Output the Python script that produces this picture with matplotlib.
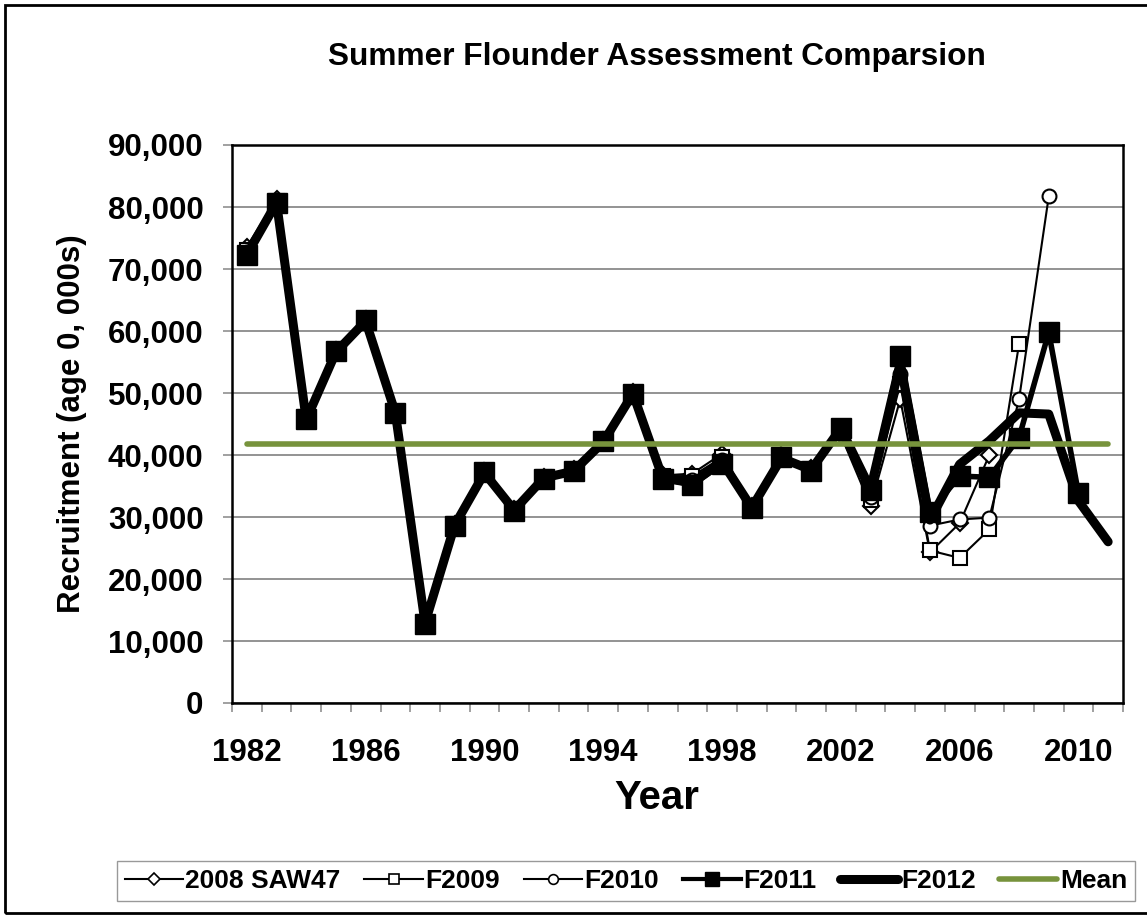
import matplotlib
matplotlib.use("Agg")
import matplotlib.pyplot as plt
from matplotlib.lines import Line2D
from matplotlib.patches import Rectangle
from matplotlib.ticker import FuncFormatter, MultipleLocator

plt.rcParams['font.family'] = ['Liberation Sans', 'DejaVu Sans']
plt.rcParams['font.weight'] = 'bold'
plt.rcParams['lines.solid_joinstyle'] = 'round'

# recruitment estimates (age 0, 000s)
years = list(range(1982, 2012))
saw47 = [73600, 81300, 46200, 57000, 62000, 47100, 13100, 28900, 37400, 31300,
         36500, 37700, 42400, 50100, 36700, 37000, 40200, 31800, 40000, 37900,
         43200, 31800, 49000, 24300, 29000, 40000]
f2009 = [73000, 81000, 46100, 56900, 61900, 47000, 13000, 28800, 37300, 31200,
         36400, 37600, 42300, 50000, 36600, 36600, 39600, 31700, 39900, 37800,
         43500, 32800, 51500, 24600, 23400, 28000, 57900]
f2010 = [72800, 80900, 46000, 56800, 61800, 46900, 12900, 28700, 37300, 31200,
         36400, 37500, 42300, 50000, 36500, 36000, 39200, 31600, 39800, 37700,
         43800, 33200, 53000, 28600, 29600, 29900, 49000, 81700]
f2011 = [72300, 80700, 45800, 56700, 61700, 46800, 12800, 28600, 37200, 31000,
         36200, 37400, 42200, 49900, 36200, 35200, 38600, 31400, 39700, 37500,
         44300, 34400, 55900, 30800, 36600, 36400, 42800, 59800, 33800]
f2012 = [72300, 80700, 45700, 56600, 61600, 46800, 12900, 28700, 37100, 31100,
         36300, 37400, 42100, 49900, 36300, 35500, 38900, 31500, 39500, 37600,
         44300, 34500, 54800, 29500, 38500, 42300, 46800, 46600, 32600, 26000]
mean_val = 41700
labels = ['2008 SAW47', 'F2009', 'F2010', 'F2011', 'F2012', 'Mean']
green = '#77933C'

fig = plt.figure(figsize=(11.47, 9.16), dpi=100)
ax = fig.add_axes([232/1147, 1-703/916, (1123-232)/1147, (703-145)/916])

ax.plot(years[:len(saw47)], saw47, color='black', lw=1.5, marker='D', ms=8,
        mfc='white', mec='black', mew=1.5)
ax.plot(years[:len(f2009)], f2009, color='black', lw=1.5, marker='s', ms=9.5,
        mfc='white', mec='black', mew=1.5)
ax.plot(years[:len(f2010)], f2010, color='black', lw=1.5, marker='o', ms=10,
        mfc='white', mec='black', mew=1.5)
ax.plot(years[:len(f2011)], f2011, color='black', lw=4, marker='s', ms=14,
        mfc='black', mec='black')
ax.plot(years, f2012, color='black', lw=6.5, solid_capstyle='round')
ax.plot([years[0], years[-1]], [mean_val, mean_val], color=green, lw=4,
        solid_capstyle='round')

ax.set_xlim(1981.5, 2011.5)
ax.set_ylim(0, 90000)
ax.yaxis.set_major_locator(MultipleLocator(10000))
ax.yaxis.set_major_formatter(FuncFormatter(lambda v, p: f"{int(v):,}"))
ax.set_xticks(range(1982, 2012, 4))
ax.set_xticks([y - 0.5 for y in range(1982, 2013)], minor=True)
ax.grid(axis='y', color='#808080', lw=1.2)
ax.set_axisbelow(True)
ax.tick_params(axis='x', which='major', length=0, pad=25, labelsize=22.5)
ax.tick_params(axis='x', which='minor', length=6.5, width=1.2, color='#909090',
               direction='out')
ax.tick_params(axis='y', which='major', length=6.5, width=1.2, color='#909090',
               direction='out', pad=14, labelsize=22.5)
for s in ax.spines.values():
    s.set_linewidth(1.8)
    s.set_color('black')
for t in ax.get_xticklabels() + ax.get_yticklabels():
    t.set_fontweight('bold')

fig.text(657/1147, 1-57/916, 'Summer Flounder Assessment Comparsion',
         ha='center', va='center', fontsize=22.8, fontweight='bold')
fig.text(72/1147, 1-424/916, 'Recruitment (age 0, 000s)', rotation=90,
         ha='center', va='center', fontsize=22.5, fontweight='bold')
fig.text(657/1147, 1-798/916, 'Year', ha='center', va='center',
         fontsize=29, fontweight='bold')

# legend (proxy handles with smaller markers, as in the original)
handles = [
    Line2D([], [], color='black', lw=1.5, marker='D', ms=6, mfc='white', mew=1.2),
    Line2D([], [], color='black', lw=1.5, marker='s', ms=7, mfc='white', mew=1.2),
    Line2D([], [], color='black', lw=1.5, marker='o', ms=7, mfc='white', mew=1.2),
    Line2D([], [], color='black', lw=3, marker='s', ms=10, mfc='black'),
    Line2D([], [], color='black', lw=6.5, solid_capstyle='round'),
    Line2D([], [], color=green, lw=4, solid_capstyle='round'),
]
leg = fig.legend(handles, labels, loc='center', bbox_to_anchor=(626/1147, 1-881/916),
                 ncol=6, frameon=True, fancybox=False, shadow=False,
                 handlelength=2.2, handletextpad=0.1, columnspacing=0.9,
                 borderpad=0.3,
                 prop={'family': 'Liberation Sans', 'weight': 'bold', 'size': 19})
leg.get_frame().set_edgecolor('#808080')
leg.get_frame().set_linewidth(1.0)

fig.patches.append(Rectangle((5/1147, 3/916), 1.0, 1-8/916, transform=fig.transFigure,
                             fill=False, edgecolor='black', lw=2, clip_on=False))

fig.savefig('out.png', dpi=100)
